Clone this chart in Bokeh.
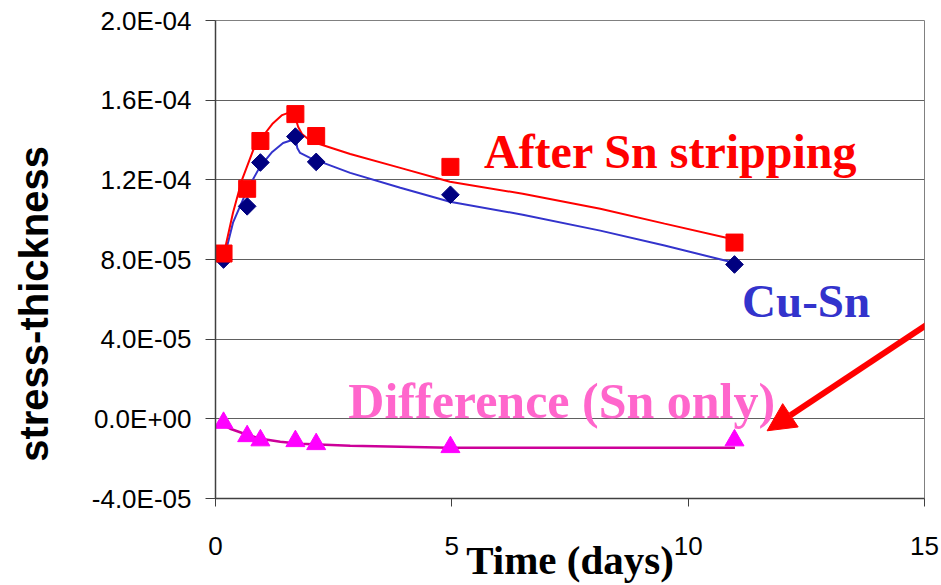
from bokeh.plotting import figure
from bokeh.models import FixedTicker, CustomJSTickFormatter, Arrow, NormalHead
from bokeh.core.properties import value
from bokeh.embed import file_html
from bokeh.resources import INLINE

# ---- data ----
days = [0.17, 0.67, 0.95, 1.69, 2.13, 4.97, 10.98]
after_strip = [8.3e-5, 1.155e-4, 1.395e-4, 1.53e-4, 1.42e-4, 1.265e-4, 8.85e-5]
cu_sn = [8.0e-5, 1.067e-4, 1.287e-4, 1.417e-4, 1.29e-4, 1.125e-4, 7.75e-5]
difference = [-2.0e-6, -8.7e-6, -1.08e-5, -1.12e-5, -1.27e-5, -1.42e-5, -1.08e-5]

# smooth fitted curves
after_fit_x = [0.16, 0.37, 0.56, 0.80, 0.99, 1.20, 1.41, 1.58, 1.68, 1.75, 1.83, 1.96, 2.13, 2.85, 3.91, 4.96, 6.5, 8.14, 9.5, 10.97]
after_fit_y = [8.1e-5, 1.035e-4, 1.2e-4, 1.35e-4, 1.415e-4, 1.48e-4, 1.525e-4, 1.54e-4, 1.52e-4, 1.465e-4, 1.43e-4, 1.405e-4, 1.385e-4, 1.33e-4, 1.26e-4, 1.19e-4, 1.13e-4, 1.055e-4, 9.8e-5, 9.0e-5]
cu_fit_x = [0.16, 0.37, 0.67, 0.94, 1.20, 1.43, 1.62, 1.71, 1.73, 1.79, 2.0, 2.85, 3.91, 4.96, 6.5, 8.14, 9.5, 10.95]
cu_fit_y = [7.85e-5, 9.85e-5, 1.15e-4, 1.265e-4, 1.34e-4, 1.385e-4, 1.40e-4, 1.39e-4, 1.36e-4, 1.335e-4, 1.31e-4, 1.235e-4, 1.16e-4, 1.09e-4, 1.025e-4, 9.45e-5, 8.7e-5, 7.85e-5]
diff_fit_x = [0.06, 0.31, 0.67, 0.96, 1.37, 1.79, 2.85, 3.91, 4.96, 10.99]
diff_fit_y = [-1.5e-6, -5.0e-6, -8.0e-6, -1.0e-5, -1.15e-5, -1.25e-5, -1.35e-5, -1.4e-5, -1.45e-5, -1.45e-5]

x_ticks = [0, 5, 10, 15]
y_ticks = [-4e-5, 0, 4e-5, 8e-5, 1.2e-4, 1.6e-4, 2e-4]

p = figure(width=941, height=585, x_range=(0, 15), y_range=(-4e-5, 2e-4),
           output_backend="svg", toolbar_location=None,
           min_border_left=215, min_border_right=17, min_border_top=20, min_border_bottom=85,
           background_fill_color="white", border_fill_color="white")
p.outline_line_color = "#808080"
p.outline_line_width = 1

# axes
p.xaxis.ticker = FixedTicker(ticks=x_ticks)
p.yaxis.ticker = FixedTicker(ticks=y_ticks)
p.yaxis.formatter = CustomJSTickFormatter(code="""
var s = tick.toExponential(1); var parts = s.split('e');
var e = parseInt(parts[1]); var sign = e < 0 ? '-' : '+'; var a = Math.abs(e);
return parts[0] + 'E' + sign + (a < 10 ? '0' : '') + a;
""")
for ax in (p.xaxis[0], p.yaxis[0]):
    ax.axis_line_color = "#404040"
    ax.axis_line_width = 1.5
    ax.major_tick_line_color = "#404040"
    ax.major_tick_in = 0
    ax.minor_tick_line_color = None
    ax.major_label_text_font = "Liberation Sans"
    ax.major_label_text_font_size = "26px"
    ax.major_label_text_color = "black"
p.xaxis.major_tick_out = 8
p.yaxis.major_tick_out = 10
p.xaxis.major_label_standoff = 30
p.yaxis.major_label_standoff = 14

p.xaxis.axis_label = "Time (days)"
p.xaxis.axis_label_text_font = "Liberation Serif"
p.xaxis.axis_label_text_font_style = "bold"
p.xaxis.axis_label_text_font_size = "41px"
p.xaxis.axis_label_text_color = "black"
p.xaxis.axis_label_standoff = -21

# y title sits below the frame centre in the reference: pad its end with no-break spaces
p.yaxis.axis_label = "stress-thickness" + "\u00a0" * 8
p.yaxis.axis_label_text_font = "Liberation Sans"
p.yaxis.axis_label_text_font_style = "bold"
p.yaxis.axis_label_text_font_size = "40px"
p.yaxis.axis_label_text_color = "black"
p.yaxis.axis_label_standoff = 33

p.xgrid.grid_line_color = None
p.ygrid.grid_line_color = "#606060"
p.ygrid.grid_line_width = 1

# curves
p.line(cu_fit_x, cu_fit_y, line_color="#3333CC", line_width=2)
p.line(after_fit_x, after_fit_y, line_color="#FF0000", line_width=2)
p.line(diff_fit_x, diff_fit_y, line_color="#CC0099", line_width=2.5)

# markers
p.scatter(days, cu_sn, marker="square", size=12.5, angle=0.785398,
          fill_color="#000080", line_color="#000080")
p.scatter(days, after_strip, marker="square", size=17,
          fill_color="#FF0000", line_color="#FF0000")
p.scatter(days, difference, marker="triangle", size=19,
          fill_color="#FF00FF", line_color="#FF00FF")

# annotations
p.text(x=[5.68], y=[1.34e-4], text=["After Sn stripping"], text_font=value("Liberation Serif"),
       text_font_style="bold", text_font_size="48px", text_color="#FF0000",
       text_align="left", text_baseline="alphabetic")
p.text(x=[11.14], y=[5.9e-5], text=["Cu-Sn"], text_font=value("Liberation Serif"),
       text_font_style="bold", text_font_size="47px", text_color="#3333CC",
       text_align="left", text_baseline="alphabetic")
p.text(x=[11.84], y=[9.0e-6], text=["Difference (Sn only)"], text_font=value("Liberation Serif"),
       text_font_style="bold", text_font_size="50px", text_color="#FF66CC",
       text_align="right", text_baseline="alphabetic")

p.add_layout(Arrow(end=NormalHead(size=28, fill_color="#FF0000", line_color="#FF0000"),
                   x_start=15.35, y_start=5.2e-5, x_end=11.67, y_end=-6.0e-6,
                   line_color="#FF0000", line_width=6))

open("out.html", "w").write(file_html(p, INLINE))
